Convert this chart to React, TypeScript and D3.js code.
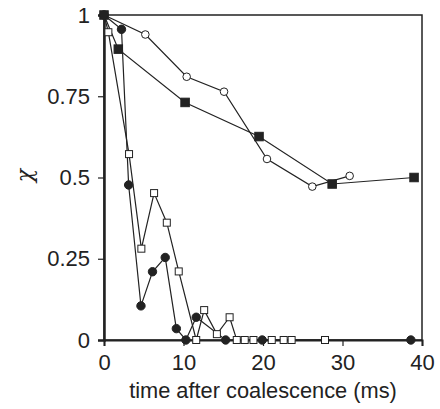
import { useRef, useEffect } from 'react';
import * as d3 from 'd3';

// open circles
const openCircleT = [0, 5.2, 10.4, 15.1, 20.5, 26.2, 30.9];
const openCircleV = [1, 0.94, 0.81, 0.764, 0.557, 0.472, 0.505];

// filled squares
const filledSquareT = [0, 1.8, 10.2, 19.5, 28.7, 39.0];
const filledSquareV = [1, 0.895, 0.731, 0.626, 0.48, 0.5];

// filled circles
const filledCircleT = [0, 2.2, 3.1, 4.65, 6.1, 7.7, 9.1, 10.3, 11.6, 15.3, 19.9, 38.6];
const filledCircleV = [1, 0.956, 0.477, 0.105, 0.21, 0.254, 0.035, 0, 0.07, 0, 0, 0];

// open squares
const openSquareT = [0, 0.55, 3.15, 4.7, 6.3, 7.9, 9.4, 11.6, 12.6, 14.2, 15.8, 16.7, 17.7, 18.8, 21.1, 22.6, 23.6, 27.8];
const openSquareV = [1, 0.947, 0.572, 0.281, 0.452, 0.361, 0.211, 0, 0.092, 0.018, 0.07, 0, 0, 0, 0, 0, 0, 0];

const xTicks = [0, 10, 20, 30, 40];
const yTicks = [0, 0.25, 0.5, 0.75, 1];
const yTickLabels = ['0', '0.25', '0.5', '0.75', '1'];

export default function App() {
  const ref = useRef<SVGSVGElement>(null);

  useEffect(() => {
    if (!ref.current) return;
    const left = 104, right = 422, top = 15, bottom = 340;
    const font = 'Liberation Sans, Arial, sans-serif';

    const svg = d3.select(ref.current);
    svg.selectAll('*').remove();

    const x = d3.scaleLinear().domain([0, 40]).range([left, right]);
    const y = d3.scaleLinear().domain([0, 1]).range([bottom, top]);

    // frame
    svg.append('rect')
      .attr('x', left).attr('y', top)
      .attr('width', right - left).attr('height', bottom - top)
      .attr('fill', 'none').attr('stroke', '#222').attr('stroke-width', 1.5);

    // x axis
    const xAxis = svg.append('g').attr('transform', `translate(0,${bottom})`)
      .call(d3.axisBottom(x).tickValues(xTicks).tickSize(6).tickPadding(8).tickFormat(d3.format('d')));
    xAxis.select('.domain').attr('stroke', '#222').attr('stroke-width', 2);
    xAxis.selectAll('.tick line').attr('stroke', '#222').attr('stroke-width', 1.2);
    xAxis.selectAll('.tick text').attr('font-size', 22).attr('font-family', font).attr('fill', '#222');

    // y axis
    const yAxis = svg.append('g').attr('transform', `translate(${left},0)`)
      .call(d3.axisLeft(y).tickValues(yTicks).tickSize(6).tickPadding(8)
        .tickFormat((d, i) => yTickLabels[i]));
    yAxis.select('.domain').attr('stroke', '#222').attr('stroke-width', 2.5);
    yAxis.selectAll('.tick line').attr('stroke', '#222').attr('stroke-width', 1.2);
    yAxis.selectAll('.tick text').attr('font-size', 22).attr('font-family', font).attr('fill', '#222');

    // axis titles
    svg.append('text')
      .attr('x', 263).attr('y', 398)
      .attr('text-anchor', 'middle')
      .attr('font-size', 21.8).attr('font-family', font).attr('fill', '#222')
      .text('time after coalescence (ms)');

    svg.append('text')
      .attr('transform', `translate(32,${y(0.5) - 2}) rotate(-90)`)
      .attr('text-anchor', 'middle')
      .attr('font-size', 22).attr('font-family', 'DejaVu Serif, serif').attr('font-style', 'italic').attr('fill', '#222')
      .text('χ');

    const line = d3.line<[number, number]>().x((d) => x(d[0])).y((d) => y(d[1]));
    const pts = (t: number[], v: number[]) => t.map((d, i) => [d, v[i]] as [number, number]);

    const series = [
      { data: pts(filledSquareT, filledSquareV), kind: 'square', fill: '#222' },
      { data: pts(openCircleT, openCircleV), kind: 'circle', fill: '#fff' },
      { data: pts(openSquareT, openSquareV), kind: 'square', fill: '#fff' },
      { data: pts(filledCircleT, filledCircleV), kind: 'circle', fill: '#222' },
    ];

    series.forEach((s) => {
      svg.append('path')
        .attr('d', line(s.data))
        .attr('fill', 'none').attr('stroke', '#222').attr('stroke-width', 1.2);
    });

    series.forEach((s) => {
      const g = svg.append('g');
      if (s.kind === 'circle') {
        g.selectAll('circle').data(s.data).enter().append('circle')
          .attr('cx', (d) => x(d[0])).attr('cy', (d) => y(d[1]))
          .attr('r', s.fill === '#fff' ? 3.8 : 4.2)
          .attr('fill', s.fill).attr('stroke', '#222').attr('stroke-width', 1);
      } else {
        const sz = s.fill === '#fff' ? 7 : 8.5;
        g.selectAll('rect').data(s.data).enter().append('rect')
          .attr('x', (d) => x(d[0]) - sz / 2).attr('y', (d) => y(d[1]) - sz / 2)
          .attr('width', sz).attr('height', sz)
          .attr('fill', s.fill).attr('stroke', '#222').attr('stroke-width', 1);
      }
    });
  }, []);

  return (
    <svg
      ref={ref}
      width={440}
      height={409}
      style={{ position: 'absolute', left: 0, top: 0, background: '#fff' }}
    />
  );
}
